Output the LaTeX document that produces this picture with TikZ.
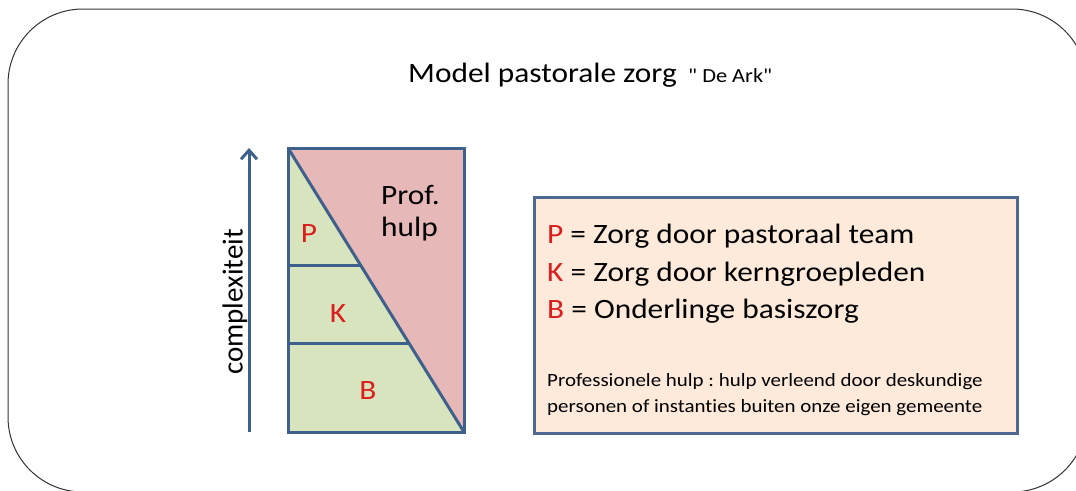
\documentclass[tikz,border=0pt]{standalone}
\usepackage{fontspec}
\setmainfont{Carlito}[FakeStretch=1.12, Ligatures={TeXOff,NoCommon}]
\newfontfamily\axisfont{Carlito}[Ligatures={TeXOff,NoCommon}]
\usepackage{tikz}
\usetikzlibrary{arrows.meta}
\frenchspacing

\definecolor{lineblue}{RGB}{62,96,140}
\definecolor{boxblue}{RGB}{78,104,146}
\definecolor{zorggreen}{RGB}{215,228,189}
\definecolor{hulppink}{RGB}{230,185,184}
\definecolor{legendfill}{RGB}{253,234,218}
\definecolor{lettered}{RGB}{220,30,30}

\tikzset{
  bigtext/.style={font=\fontsize{28}{32}\selectfont, inner sep=0pt},
  smalltext/.style={font=\fontsize{18.7}{22}\selectfont, inner sep=0pt},
  letter/.style={bigtext, text=lettered},
}

\begin{document}
\begin{tikzpicture}[x=1pt,y=1pt,yscale=-1,xscale=1]
\clip (0,0) rectangle (1076,490);

%Shape: Frame
\draw [color={rgb,255:red,50;green,50;blue,50}, line width=1pt, rounded corners=75] (8,9) rectangle (1087,492) ;

% Text Node
\node [bigtext, anchor=base west] (title) at (408,82) {Model pastorale zorg};
% Text Node
\node [font=\fontsize{20}{22}\selectfont, inner sep=0pt, anchor=base west] (ark) at (688,82) {" De Ark"};

%Shape: Axis
\draw [lineblue, line width=3pt, -{Straight Barb[length=9pt,width=16pt,line width=3pt]}] (249,432) -- (249,148) ;
% Text Node
\node [font=\axisfont\fontsize{29}{32}\selectfont, inner sep=0pt, rotate=90] (axis) at (235,302) {complexiteit};

%Shape: Triangles
\fill [zorggreen] (288,148) -- (464,432) -- (288,432) -- cycle ;
\fill [hulppink] (288,148) -- (464,148) -- (464,432) -- cycle ;
%Straight Lines
\draw [lineblue, line width=3pt] (288,148) -- (464,432) ;
\draw [lineblue, line width=3pt] (288,265) -- (360,265) ;
\draw [lineblue, line width=3pt] (288,343) -- (408,343) ;
%Shape: Rectangle
\draw [lineblue, line width=3pt] (288,148) rectangle (464,432) ;

% Text Node
\node [bigtext, anchor=base west] (prof) at (381,204) {Prof.};
% Text Node
\node [bigtext, anchor=base west] (hulp) at (381,236) {hulp};
% Text Node
\node [letter] (p) at (309,234) {P};
% Text Node
\node [letter] (k) at (338,314) {K};
% Text Node
\node [letter] (b) at (368,391) {B};

%Shape: Legend
\draw [boxblue, fill=legendfill, line width=3pt] (534,197) rectangle (1017,433) ;

% Text Node
\node [bigtext, anchor=base west] (pline) at (547,243) {\textcolor{lettered}{P} = Zorg door pastoraal team};
% Text Node
\node [bigtext, anchor=base west] (kline) at (547,281) {\textcolor{lettered}{K} = Zorg door kerngroepleden};
% Text Node
\node [bigtext, anchor=base west] (bline) at (547,318) {\textcolor{lettered}{B} = Onderlinge basiszorg};
% Text Node
\node [smalltext, anchor=base west] (note1) at (547,386) {Professionele hulp : hulp verleend door deskundige};
% Text Node
\node [smalltext, anchor=base west] (note2) at (547,412) {personen of instanties buiten onze eigen gemeente};

\end{tikzpicture}
\end{document}
